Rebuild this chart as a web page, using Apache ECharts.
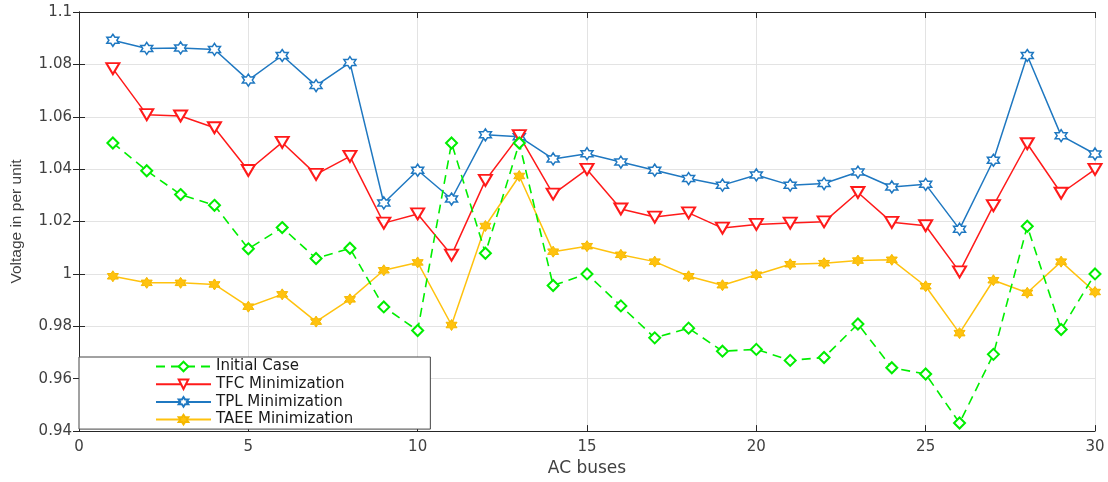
<!DOCTYPE html>
<html>
<head>
<meta charset="utf-8">
<script src="https://cdn.jsdelivr.net/npm/echarts@6/dist/echarts.min.js"></script>
<style>
html,body{margin:0;padding:0;background:#fff;}
#chart{width:1108px;height:482px;}
</style>
</head>
<body>
<div id="chart"></div>
<script>
var buses = [1,2,3,4,5,6,7,8,9,10,11,12,13,14,15,16,17,18,19,20,21,22,23,24,25,26,27,28,29,30];
var initialCase = [1.050,1.0394,1.0303,1.0262,1.0096,1.0177,1.0059,1.0098,0.9874,0.9784,1.050,1.0079,1.050,0.9956,1.000,0.9878,0.9756,0.9793,0.9705,0.9712,0.9670,0.9681,0.9809,0.9642,0.9618,0.9431,0.9693,1.0182,0.9788,1.000];
var tfcMin = [1.0784,1.0608,1.0603,1.0558,1.0395,1.0502,1.038,1.0449,1.0194,1.0229,1.0072,1.0357,1.0528,1.0305,1.0399,1.0248,1.0217,1.0233,1.0175,1.0189,1.0194,1.0199,1.0311,1.0197,1.0184,1.0008,1.0261,1.0497,1.0308,1.0399];
var tplMin = [1.0892,1.0861,1.0863,1.0857,1.074,1.0834,1.0719,1.0807,1.0271,1.0396,1.0286,1.0531,1.0524,1.0439,1.0459,1.0427,1.0396,1.0364,1.0339,1.0378,1.0339,1.0345,1.0389,1.0332,1.0342,1.0171,1.0434,1.0834,1.0528,1.0458];
var taeeMin = [0.9991,0.9966,0.9966,0.996,0.9875,0.9922,0.9818,0.9903,1.0014,1.0044,0.9805,1.0183,1.0374,1.0085,1.0106,1.0073,1.0047,0.9991,0.9957,0.9997,1.0037,1.0041,1.0051,1.0054,0.9953,0.9774,0.9976,0.9928,1.0047,0.9931];
var seriesNames = ['Initial Case','TFC Minimization','TPL Minimization','TAEE Minimization'];
var xTicks = {min:0, max:30, interval:5};
var yTicks = {min:0.94, max:1.1, interval:0.02};

function pairs(vals){ return buses.map(function(b,i){ return [b, vals[i]]; }); }
var star6 = 'path://M50 0 L64.43 25 L93.3 25 L78.87 50 L93.3 75 L64.43 75 L50 100 L35.57 75 L6.7 75 L21.13 50 L6.7 25 L35.57 25 Z';
var font = 'DejaVu Sans, Liberation Sans, Arial, sans-serif';
var axisColor = '#262626';

var chart = echarts.init(document.getElementById('chart'), null, {renderer:'canvas'});
chart.setOption({
  animation:false,
  backgroundColor:'#fff',
  grid:{left:79, right:13, top:12, bottom:45},
  legend:{
    orient:'vertical', left:79, top:357,
    padding:[2,77,2,76],
    itemWidth:55, itemHeight:12, itemGap:2.7,
    backgroundColor:'#fff', borderColor:'#444', borderWidth:1, borderRadius:0,
    textStyle:{fontFamily:font, fontSize:15, color:'#1a1a1a'},
    data:seriesNames
  },
  xAxis:[{
    type:'value', min:xTicks.min, max:xTicks.max, interval:xTicks.interval,
    name:'AC buses', nameLocation:'middle', nameGap:25,
    nameTextStyle:{fontFamily:font, fontSize:17, color:'#404040'},
    axisLine:{lineStyle:{color:axisColor}},
    axisTick:{inside:true, length:6, lineStyle:{color:axisColor}},
    axisLabel:{fontFamily:font, fontSize:15, color:'#404040', margin:9},
    splitLine:{show:true, lineStyle:{color:'#e3e3e3', width:1}}
  },{
    type:'value', position:'top', min:xTicks.min, max:xTicks.max, interval:xTicks.interval,
    axisLine:{show:true, lineStyle:{color:axisColor}},
    axisTick:{show:true, inside:true, length:6, lineStyle:{color:axisColor}},
    axisLabel:{show:false}, splitLine:{show:false}
  }],
  yAxis:[{
    type:'value', min:yTicks.min, max:yTicks.max, interval:yTicks.interval,
    name:'Voltage in per unit', nameLocation:'middle', nameGap:54,
    nameTextStyle:{fontFamily:'Liberation Sans, Arial, sans-serif', fontSize:15.5, color:'#404040'},
    axisLine:{show:true, lineStyle:{color:axisColor}},
    axisTick:{show:true, inside:true, length:6, lineStyle:{color:axisColor}},
    axisLabel:{fontFamily:font, fontSize:15, color:'#404040', margin:7},
    splitLine:{show:true, lineStyle:{color:'#e3e3e3', width:1}}
  },{
    type:'value', position:'right', min:yTicks.min, max:yTicks.max, interval:yTicks.interval,
    axisLine:{show:true, lineStyle:{color:axisColor}},
    axisTick:{show:true, inside:true, length:6, lineStyle:{color:axisColor}},
    axisLabel:{show:false}, splitLine:{show:false}
  }],
  series:[{
    name:seriesNames[0], type:'line', data:pairs(initialCase), z:5,
    symbol:'emptyDiamond', symbolSize:11,
    lineStyle:{color:'#00ee00', width:1.6, type:[9,6]},
    itemStyle:{color:'#00ee00', borderWidth:1.6}
  },{
    name:seriesNames[1], type:'line', data:pairs(tfcMin), z:4,
    symbol:'emptyTriangle', symbolRotate:180, symbolSize:[13,11],
    lineStyle:{color:'#ff1a1a', width:1.5},
    itemStyle:{color:'#ff1a1a', borderWidth:1.5}
  },{
    name:seriesNames[2], type:'line', data:pairs(tplMin), z:3,
    symbol:star6, symbolSize:12,
    lineStyle:{color:'#1f78c1', width:1.5},
    itemStyle:{color:'#fff', borderColor:'#1f78c1', borderWidth:1.5}
  },{
    name:seriesNames[3], type:'line', data:pairs(taeeMin), z:2,
    symbol:star6, symbolSize:11,
    lineStyle:{color:'#ffc20e', width:1.5},
    itemStyle:{color:'#ffc20e', borderColor:'#f5b800', borderWidth:1}
  }]
});
</script>
</body>
</html>
